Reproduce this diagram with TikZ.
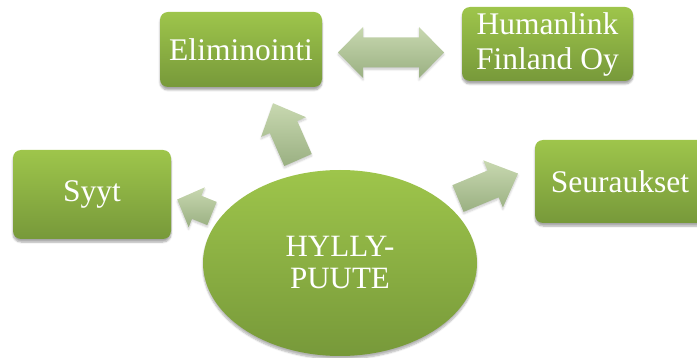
\documentclass[tikz,border=0pt]{standalone}
\usepackage{fontspec}
\setmainfont{Liberation Serif}
\usetikzlibrary{shapes.geometric,shadows.blur}
\definecolor{gtop}{RGB}{158,197,75}
\definecolor{gbot}{RGB}{119,153,58}
\definecolor{atop}{RGB}{200,216,176}
\definecolor{abot}{RGB}{154,176,130}
\tikzset{
  box/.style={rectangle, rounded corners=8pt, inner sep=0pt, top color=gtop, bottom color=gbot,
    text=white, align=center, font=\fontsize{31.5}{35}\selectfont,
    blur shadow={shadow blur steps=6, shadow xshift=0pt, shadow yshift=-3pt, shadow opacity=35}},
  oval/.style={ellipse, inner sep=0pt, top color=gtop, bottom color=gbot,
    text=white, align=center, font=\fontsize{31}{32}\selectfont,
    blur shadow={shadow blur steps=6, shadow xshift=0pt, shadow yshift=-3pt, shadow opacity=30}},
  blockarrow/.style={top color=atop, bottom color=abot,
    blur shadow={shadow blur steps=5, shadow xshift=0pt, shadow yshift=-2pt, shadow opacity=20}}
}
% #1 name, #2 #3 tail centre, #4 angle, #5 length, #6 shaft width, #7 head width, #8 head length
\newcommand\defarrow[8]{%
  \begin{scope}[shift={(#2,#3)},rotate=#4]
    \coordinate (#1-1) at (0,{-#6/2});
    \coordinate (#1-2) at ({#5-#8},{-#6/2});
    \coordinate (#1-3) at ({#5-#8},{-#7/2});
    \coordinate (#1-4) at (#5,0);
    \coordinate (#1-5) at ({#5-#8},{#7/2});
    \coordinate (#1-6) at ({#5-#8},{#6/2});
    \coordinate (#1-7) at (0,{#6/2});
  \end{scope}}
\begin{document}
\begin{tikzpicture}[x=1pt,y=-1pt]
\useasboundingbox (0,0) rectangle (697,358);
\clip (0,0) rectangle (697,358);

% nodes
\node[box, minimum width=158pt, minimum height=89pt] (syyt) at (92,194.5) {Syyt};
\node[box, minimum width=162pt, minimum height=75pt] (elim) at (241,49.5) {Eliminointi};
\node[box, minimum width=171pt, minimum height=74pt] (human) at (547.5,44) {Humanlink\\Finland Oy};
\node[box, minimum width=170pt, minimum height=83pt] (seur) at (620,181.5) {Seuraukset};
\node[oval, minimum width=274pt, minimum height=186pt] (hylly) at (340,263) {HYLLY-\\PUUTE};

% block arrows
\defarrow{au}{298}{160}{113.7}{62}{30}{49}{26}
\shade[blockarrow] (au-1) -- (au-2) -- (au-3) -- (au-4) -- (au-5) -- (au-6) -- (au-7) -- cycle;
\defarrow{al}{212}{213.5}{158}{37.5}{25}{43}{21}
\shade[blockarrow] (al-1) -- (al-2) -- (al-3) -- (al-4) -- (al-5) -- (al-6) -- (al-7) -- cycle;
\defarrow{ar}{458}{198.5}{22.6}{65}{29}{51}{27}
\shade[blockarrow] (ar-1) -- (ar-2) -- (ar-3) -- (ar-4) -- (ar-5) -- (ar-6) -- (ar-7) -- cycle;

% double arrow between Eliminointi and Humanlink
\coordinate (d1) at (338,52.5);
\coordinate (d2) at (363,27);
\coordinate (d3) at (363,37.5);
\coordinate (d4) at (419,37.5);
\coordinate (d5) at (419,27);
\coordinate (d6) at (444,52.5);
\coordinate (d7) at (419,78);
\coordinate (d8) at (419,67.5);
\coordinate (d9) at (363,67.5);
\coordinate (d10) at (363,78);
\shade[blockarrow] (d1) -- (d2) -- (d3) -- (d4) -- (d5) -- (d6) -- (d7) -- (d8) -- (d9) -- (d10) -- cycle;
\end{tikzpicture}
\end{document}
